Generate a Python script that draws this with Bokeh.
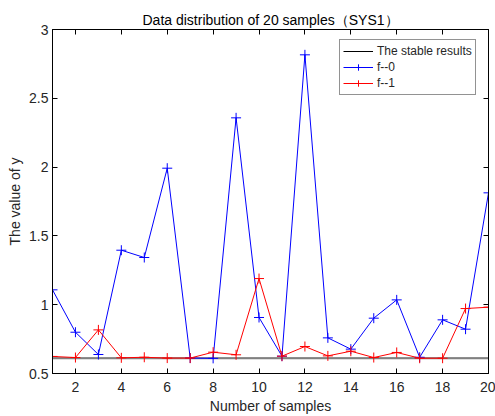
from bokeh.plotting import figure
from bokeh.models import (Range1d, LinearAxis, FixedTicker, Legend, LegendItem,
                          ColumnDataSource)
from bokeh.embed import file_html
from bokeh.resources import INLINE

samples = list(range(1, 21))
f0 = [1.108, 0.80, 0.638, 1.396, 1.343, 1.992, 0.612, 0.610, 2.358, 0.907,
      0.626, 2.816, 0.759, 0.677, 0.902, 1.035, 0.618, 0.890, 0.822, 1.813]
f1 = [0.624, 0.616, 0.817, 0.614, 0.618, 0.612, 0.612, 0.655, 0.636, 1.190,
      0.626, 0.696, 0.628, 0.662, 0.616, 0.653, 0.611, 0.611, 0.972, 0.982]
stable = [0.611] * 20
x_ticks = [2, 4, 6, 8, 10, 12, 14, 16, 18, 20]
y_ticks = [0.5, 1.0, 1.5, 2.0, 2.5, 3.0]
y_tick_labels = ["0.5", "1", "1.5", "2", "2.5", "3"]

FONT = "Liberation Sans"
TXT = "#262626"

p = figure(width=495, height=416, output_backend="svg", toolbar_location=None,
           x_range=Range1d(1, 20), y_range=Range1d(0.5, 3),
           x_axis_location=None, y_axis_location=None,
           min_border_left=52, min_border_right=7, min_border_top=29,
           min_border_bottom=43)
p.frame_width = 436
p.frame_height = 344
p.grid.visible = False
p.outline_line_color = "black"
p.outline_line_width = 1
p.background_fill_color = "white"
p.border_fill_color = "white"

p.title.text = "Data distribution of 20 samples\uff08SYS1\uff09"
p.title.align = "center"
p.title.text_font = FONT
p.title.text_font_style = "normal"
p.title.text_font_size = "14px"
p.title.text_color = "black"
p.title.offset = 0
p.title.standoff = 3

def make_axis(ticks, show_labels, label=None, overrides=None, standoff=4,
              label_standoff=3):
    ax = LinearAxis(ticker=FixedTicker(ticks=ticks))
    ax.major_tick_in = 5
    ax.major_tick_out = 0
    ax.minor_tick_line_color = None
    ax.axis_line_color = "black"
    ax.major_tick_line_color = "black"
    ax.major_label_text_font = FONT
    if show_labels:
        ax.major_label_text_font_size = "14px"
        ax.major_label_text_color = TXT
        ax.major_label_standoff = standoff
        if overrides:
            ax.major_label_overrides = overrides
        if label:
            ax.axis_label = label
            ax.axis_label_text_font = FONT
            ax.axis_label_text_font_style = "normal"
            ax.axis_label_text_font_size = "14px"
            ax.axis_label_text_color = TXT
            ax.axis_label_standoff = label_standoff
    else:
        ax.major_label_text_font_size = "1px"
        ax.major_label_text_color = None
        ax.major_label_standoff = 0
    return ax

p.add_layout(make_axis(x_ticks, True, "Number of samples", standoff=8,
                       label_standoff=3), "below")
p.add_layout(make_axis(y_ticks, True, "The value of y",
                       dict(zip(y_ticks, y_tick_labels))), "left")
p.add_layout(make_axis(x_ticks, False), "above")
p.add_layout(make_axis(y_ticks, False), "right")

src = ColumnDataSource(dict(x=samples, f0=f0, f1=f1, s=stable))

r_s = p.line("x", "s", source=src, line_color="black", line_width=1)
p.line("x", "s", source=src, line_color="#808080", line_width=2)
r0l = p.line("x", "f0", source=src, line_color="blue", line_width=1)
r0m = p.scatter("x", "f0", source=src, marker="cross", size=10,
                line_color="blue", line_width=1)
r1l = p.line("x", "f1", source=src, line_color="red", line_width=1)
r1m = p.scatter("x", "f1", source=src, marker="cross", size=10,
                line_color="red", line_width=1)

legend = Legend(items=[
    LegendItem(label="The stable results", renderers=[r_s]),
    LegendItem(label="f--0", renderers=[r0l, r0m]),
    LegendItem(label="f--1", renderers=[r1l, r1m]),
], location=(287, 278))
legend.label_text_font = FONT
legend.label_text_font_size = "12px"
legend.label_text_color = TXT
legend.glyph_width = 30
legend.glyph_height = 16
legend.label_height = 16
legend.label_standoff = 4
legend.spacing = 0
legend.padding = 3
legend.margin = 0
legend.border_line_color = TXT
legend.border_line_width = 1
legend.background_fill_color = "white"
legend.background_fill_alpha = 1
p.add_layout(legend, "center")

open("out.html", "w").write(file_html(p, INLINE))
